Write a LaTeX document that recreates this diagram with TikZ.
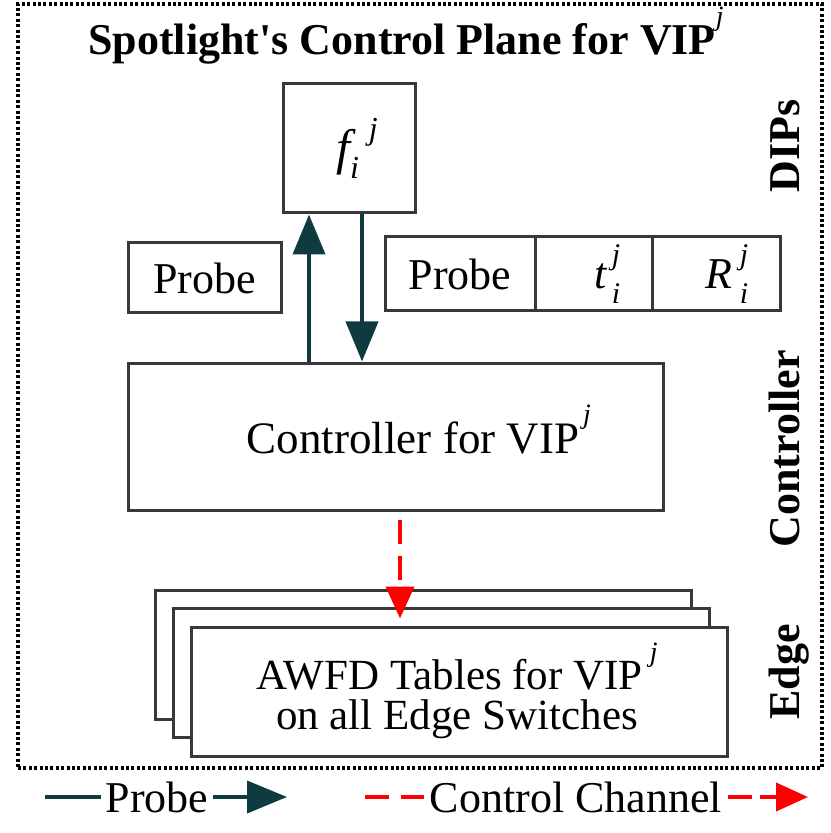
\documentclass[tikz,border=0pt]{standalone}
\usepackage{fontspec}
\setmainfont{Liberation Serif}
\usetikzlibrary{arrows.meta, positioning}
\definecolor{probecol}{HTML}{0F3A40}
\definecolor{boxcol}{HTML}{383838}
% small raised / lowered indices
\newcommand{\upj}{\raisebox{1.45ex}{\normalfont\fontsize{14}{14}\selectfont\itshape j}}
\newcommand{\idxij}[2][2.5pt]{{\itshape #2\hspace{#1}\makebox[0pt][l]{\raisebox{1.2ex}{\fontsize{15}{15}\selectfont j}}\raisebox{-0.75ex}{\fontsize{15}{15}\selectfont i}}}

\begin{document}
\begin{tikzpicture}[x=0.5pt, y=-0.5pt,
    every node/.style={font=\fontsize{22}{26}\selectfont},
    box/.style={draw=boxcol, line width=1.5pt, fill=white, inner sep=0pt},
    frame/.style={draw=black, line width=1.6pt, dash pattern=on 1.5pt off 1.2pt, inner sep=0pt},
    side/.style={rotate=90, anchor=base, font=\bfseries\fontsize{22}{26}\selectfont},
    probe/.style={draw=probecol, line width=2pt, -{Triangle[length=20pt, width=16pt]}},
    ctrl/.style={draw=red, line width=2pt, dash pattern=on 12pt off 6pt, -{Triangle[length=16pt, width=14pt]}}]
  \useasboundingbox (0,0) rectangle (830,833);

  \node[frame, minimum width=402pt, minimum height=382pt] (frame) at (420,386) {};
  \node[anchor=base, font=\bfseries\fontsize{22}{26}\selectfont] (title) at (406,55)
    {Spotlight\textquotesingle s Control Plane for VIP\upj};

  % DIPs
  \node[box, minimum width=66pt, minimum height=64.5pt] (fbox) at (349,148.5)
    {\hspace{8pt}{\fontsize{25}{28}\selectfont\itshape f\raisebox{-0.6ex}{\fontsize{16}{16}\selectfont i}\hspace{5pt}\raisebox{1.1ex}{\fontsize{16}{16}\selectfont j}}};
  \node[box, minimum width=76.5pt, minimum height=35pt] (probeL) at (204.5,278) {Probe};
  \node[box, minimum width=75pt, minimum height=37pt] (probeR) at (460,274) {Probe};
  \node[box, minimum width=58.5pt, minimum height=37pt] (tcell) at (593.5,274) {\hspace{14pt}\idxij{t}};
  \node[box, minimum width=64pt, minimum height=37pt] (rcell) at (716,274) {\hspace{10.6pt}\idxij[4pt]{R}};

  % controller
  \node[box, minimum width=267.5pt, minimum height=73.5pt] (ctrlbox) at (395.5,436.5) {};
  \node[font=\fontsize{22.5}{27}\selectfont] (ctrltext) at (413,430) {Controller for VIP\makebox[0pt][l]{\hspace{2pt}\upj}};

  % edge switches
  \foreach \k in {2,1,0}
    \node[box, minimum width=268pt, minimum height=64.5pt] (edge\k) at (459-18*\k,691.5-18.5*\k) {};
  \node[align=center, font=\fontsize{21.5}{20}\selectfont] (awfd) at (457,691) {AWFD Tables for VIP\,\upj\\on all Edge Switches};

  \draw[probe] ([xshift=-20pt]fbox.south |- ctrlbox.north) -- ([xshift=-20pt]fbox.south);
  \draw[probe] ([xshift=6.5pt]fbox.south) -- ([xshift=6.5pt]fbox.south |- ctrlbox.north);
  \draw[ctrl, shorten <=4pt, shorten >=3.5pt] ([xshift=2.25pt]ctrlbox.south) -- ([xshift=2.25pt]ctrlbox.south |- edge0.north);

  \node[side] (sdips) at (799,146) {DIPs};
  \node[side] (sctrl) at (799,449) {Controller};
  \node[side] (sedge) at (799,672) {Edge};

  % legend
  \node[inner sep=2pt] (lgprobe) at (157,797) {Probe};
  \node[inner sep=3pt] (lgctrl) at (576,797) {Control Channel};
  \coordinate (lp0) at (45,797);
  \coordinate (lp1) at (287,797);
  \coordinate (lc0) at (365,797);
  \coordinate (lc1) at (808,797);
  \draw[probecol, line width=2pt] (lp0) -- (lgprobe.west);
  \draw[probe] (lgprobe.east) -- (lp1);
  \draw[red, line width=2pt, dash pattern=on 12pt off 6pt] (lc0) -- (lgctrl.west);
  \draw[ctrl, dash pattern=on 12pt off 4pt] (lgctrl.east) -- (lc1);
\end{tikzpicture}
\end{document}
